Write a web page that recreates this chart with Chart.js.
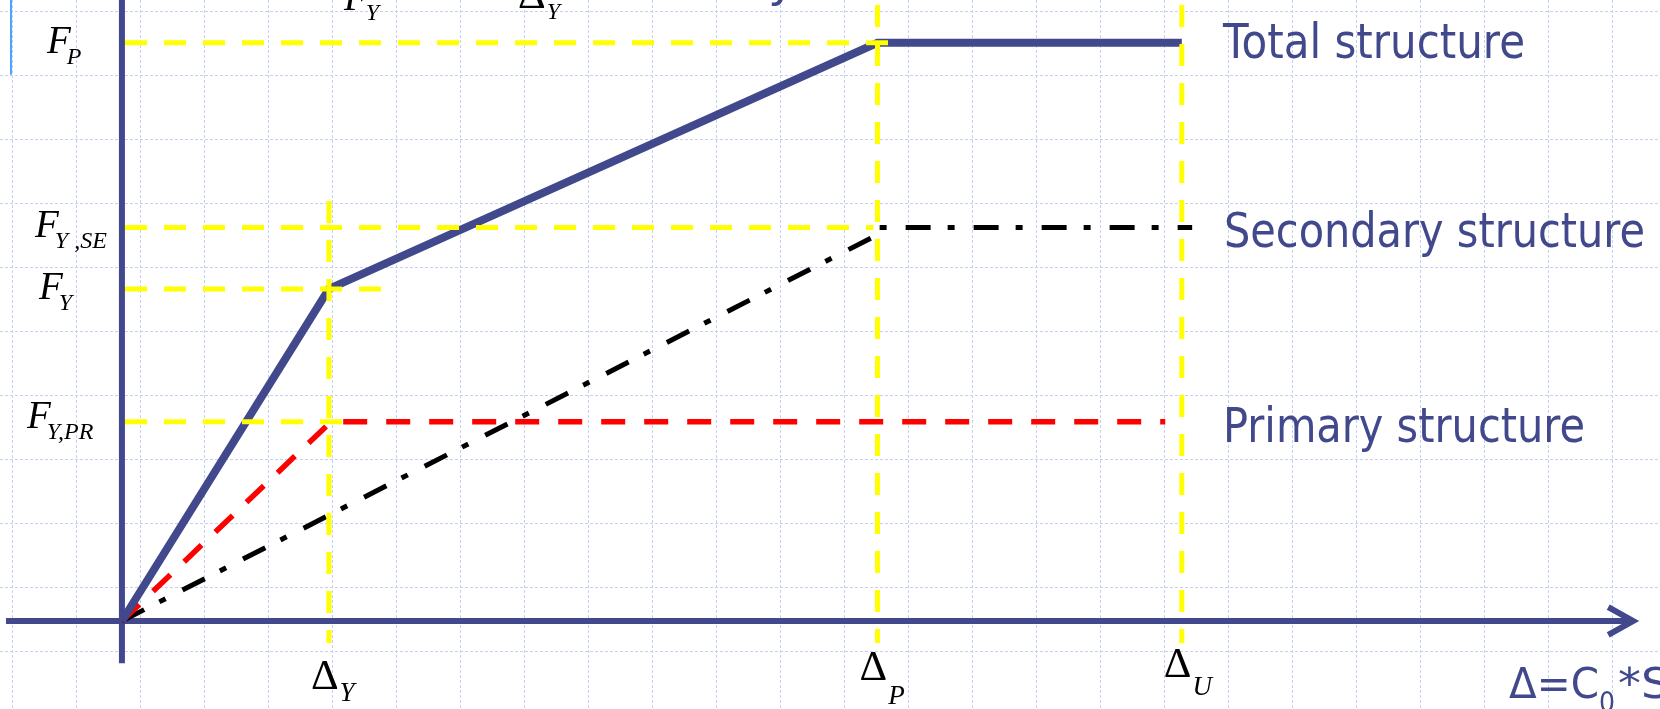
<!DOCTYPE html>
<html>
<head>
<meta charset="utf-8">
<script src="https://cdn.jsdelivr.net/npm/chart.js@4.4.1/dist/chart.umd.min.js"></script>
<style>
html, body { margin: 0; padding: 0; background: #fff; overflow: hidden; }
#wrap { width: 1660px; height: 709px; }
</style>
</head>
<body>
<div id="wrap"><canvas id="mycanvas" width="1660" height="709"></canvas></div>
<script>
// displacement in units of Delta_Y, force in units of F_Y
var deltaNames = ['Y', 'P', 'U'];
var deltaValues = [1, 3.65, 5.12];
var forceNames = ['Y,PR', 'Y', 'Y ,SE', 'P'];
var forceValues = [0.60, 1.00, 1.185, 1.741];

var totalX = [0, 1, 3.65, 5.12];
var totalY = [0, 1, 1.741, 1.741];
var primaryX = [0, 1.01, 5.04];
var primaryY = [0, 0.60, 0.60];
var secondaryX = [0, 3.65, 3.65, 5.17];
var secondaryY = [0, 1.163, 1.185, 1.185];

// where the yellow guide lines stop
var hGuideEnds = [1.126, 1.328, 3.63, 3.75];
var vGuideTops = [1.265, 1.855, 1.855];
var guideBottom = -0.066;

var blue = '#41488b';
var yellow = '#ffff00';

function pts(xs, ys) {
	var out = [];
	for (var i in xs) out.push({x: xs[i], y: ys[i]});
	return out;
}

function line(label, data, color, width, dash, order) {
	return {
		label: label,
		data: data,
		showLine: true,
		borderColor: color,
		borderWidth: width,
		borderDash: dash,
		borderCapStyle: 'butt',
		borderJoinStyle: 'miter',
		pointRadius: 0,
		fill: false,
		tension: 0,
		order: order
	};
}

var datasets = [];
for (var i in forceValues) {
	datasets.push(line('guide F' + forceNames[i], pts([0.015, hGuideEnds[i]], [forceValues[i], forceValues[i]]), yellow, 5, [22, 17], 0));
}
for (var j in deltaValues) {
	datasets.push(line('guide D' + deltaNames[j], pts([deltaValues[j], deltaValues[j]], [vGuideTops[j], guideBottom]), yellow, 5, [22, 17], 0));
}
datasets.push(line('Total structure', pts(totalX, totalY), blue, 8, [], 1));
datasets.push(line('Primary structure', pts(primaryX, primaryY), '#ff0000', 5.5, [24, 19], 2));
datasets.push(line('Secondary structure', pts(secondaryX, secondaryY), '#000000', 5, [25, 17, 7, 19], 3));
// axes with arrow head
datasets.push(line('y axis', pts([0, 0], [1.87, -0.127]), blue, 6, [], 4));
datasets.push(line('x axis', pts([-0.56, 7.30], [0, 0]), blue, 6, [], 4));
datasets.push(line('arrow', pts([7.18, 7.30, 7.18], [0.042, 0, -0.042]), blue, 6, [], 4));

function txt(ctx, s, x, y, font, color, w) {
	ctx.save();
	ctx.font = font;
	ctx.fillStyle = color;
	ctx.textBaseline = 'alphabetic';
	var m = ctx.measureText(s).width;
	var sx = w ? w / m : 1;
	ctx.translate(x, y);
	ctx.scale(sx, 1);
	ctx.fillText(s, 0, 0);
	ctx.restore();
	return m * sx;
}

var serif = '"Liberation Serif", "Times New Roman", serif';
var sans = '"DejaVu Sans", Tahoma, sans-serif';

var labelPlugin = {
	id: 'labels',
	afterDraw: function(chart) {
		var ctx = chart.ctx;
		var xs = chart.scales.x, ys = chart.scales.y;

		// small slide mark at left
		ctx.save();
		ctx.strokeStyle = '#4aa3ff';
		ctx.lineWidth = 2;
		ctx.beginPath();
		ctx.moveTo(xs.getPixelForValue(-0.536), ys.getPixelForValue(1.87));
		ctx.lineTo(xs.getPixelForValue(-0.536), ys.getPixelForValue(1.645));
		ctx.stroke();
		ctx.restore();

		// force labels on the left
		var fLeft = [27, 39, 35, 47];
		var fDrop = [6, 10, 10, 10];
		for (var i in forceValues) {
			var py = ys.getPixelForValue(forceValues[i]) + fDrop[i];
			var w = txt(ctx, 'F', fLeft[i], py, 'italic 39px ' + serif, '#000');
			txt(ctx, forceNames[i], fLeft[i] + w - 4, py + 11, 'italic 24px ' + serif, '#000');
		}

		// displacement labels below the axis
		var dBase = [689, 680, 677];
		var dSub = [701, 704, 695];
		for (var j in deltaValues) {
			var px = xs.getPixelForValue(deltaValues[j]) - 18;
			var w2 = txt(ctx, '\u0394', px, dBase[j], '43px ' + serif, '#000');
			txt(ctx, deltaNames[j], px + w2 + 1, dSub[j], 'italic 27px ' + serif, '#000');
		}

		// cut off formula at the top
		var w3 = txt(ctx, 'F', 344, 10, 'italic 39px ' + serif, '#000');
		txt(ctx, 'Y', 344 + w3 - 2, 20, 'italic 24px ' + serif, '#000');
		var w4 = txt(ctx, '\u0394', 518, 8, '43px ' + serif, '#000');
		txt(ctx, 'Y', 518 + w4 + 1, 19, 'italic 24px ' + serif, '#000');
		txt(ctx, 'y', 768, -4, '48px ' + sans, blue);

		// series names
		txt(ctx, 'Total structure', 1223, 58, '48px ' + sans, blue, 302);
		txt(ctx, 'Secondary structure', 1224, 247, '48px ' + sans, blue, 421);
		txt(ctx, 'Primary structure', 1223, 442, '48px ' + sans, blue, 362);

		// axis name
		var x0 = 1509;
		x0 += txt(ctx, '\u0394=C', x0, 698, '42px ' + sans, blue, 90);
		x0 += txt(ctx, '0', x0, 712, '28px ' + sans, blue, 16) + 3;
		txt(ctx, '*S', x0, 698, '42px ' + sans, blue, 52);
	}
};

var ctx = document.getElementById('mycanvas');

var chart = new Chart(ctx, {
	type: 'scatter',
	data: { datasets: datasets },
	options: {
		responsive: false,
		animation: false,
		devicePixelRatio: 1,
		layout: { padding: 0 },
		plugins: { legend: { display: false }, tooltip: { enabled: false } },
		scales: {
			x: { type: 'linear', min: -0.589, max: 7.43, display: false },
			y: { type: 'linear', min: -0.265, max: 1.870, display: false },
			gx: {
				type: 'linear', position: 'bottom', min: -0.1875, max: 25.75,
				afterBuildTicks: function(s) {
					s.ticks = [];
					for (var v = Math.ceil(s.min); v <= s.max; v++) s.ticks.push({value: v});
				},
				ticks: { display: false },
				grid: { color: '#c4d0f2', lineWidth: 1, drawTicks: false },
				border: { display: false, dash: [3, 2] }
			},
			gy: {
				type: 'linear', position: 'left', reverse: true, min: -0.172, max: 10.906,
				afterBuildTicks: function(s) {
					s.ticks = [];
					for (var v = Math.ceil(s.min); v <= s.max; v++) s.ticks.push({value: v});
				},
				ticks: { display: false },
				grid: { color: '#c4d0f2', lineWidth: 1, drawTicks: false },
				border: { display: false, dash: [3, 2] }
			}
		}
	},
	plugins: [labelPlugin]
});
</script>
</body>
</html>
